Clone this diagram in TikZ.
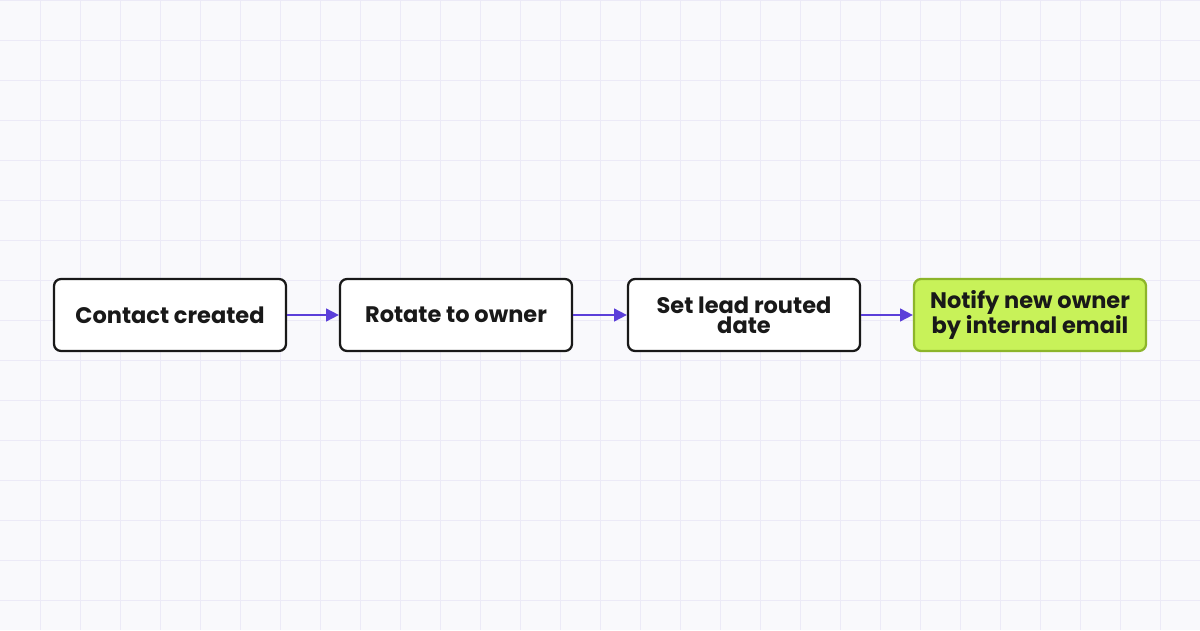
\documentclass[tikz,border=0pt]{standalone}
\usepackage{fontspec}
\setmainfont{Poppins}
\usetikzlibrary{positioning,arrows.meta}
\definecolor{gridline}{HTML}{ECEAF7}
\definecolor{bgpage}{HTML}{F9F9FC}
\definecolor{flowarrow}{HTML}{5B3FD9}
\definecolor{limefill}{HTML}{C8F259}
\definecolor{limedraw}{HTML}{8DB52A}
\tikzstyle{stage}=[rectangle, rounded corners=5pt, fill=white, draw=black!90, line width=1.6pt, minimum width=5.8cm, minimum height=1.8cm, align=center, font=\fontsize{16}{14.5}\selectfont\bfseries, text=black!90, inner sep=2pt]
\tikzstyle{goal}=[stage, fill=limefill, draw=limedraw]
\tikzstyle{flow}=[-{Triangle[length=9pt,width=9pt]}, draw=flowarrow, line width=1.3pt]
\begin{document}
\begin{tikzpicture}
	\fill[bgpage] (0,0) rectangle (30,15.75);
	\useasboundingbox (0,0) rectangle (30,15.75);
	\foreach \gx in {1,...,29} \draw[gridline, line width=0.6pt] (\gx,0) -- (\gx,15.75);
	\foreach \gy in {0.75,1.75,...,15.75} \draw[gridline, line width=0.6pt] (0,\gy) -- (30,\gy);

	\node[stage] (contact) at (4.25,7.875) {Contact created};
	\node[stage] (rotate) at (11.4,7.875) {Rotate to owner};
	\node[stage] (routed) at (18.6,7.875) {Set lead routed\\date};
	\node[goal] (notify) at (25.75,7.875) {Notify new owner\\by internal email};

	\draw[flow] (contact) -- (rotate);
	\draw[flow] (rotate) -- (routed);
	\draw[flow] (routed) -- (notify);
\end{tikzpicture}
\end{document}
